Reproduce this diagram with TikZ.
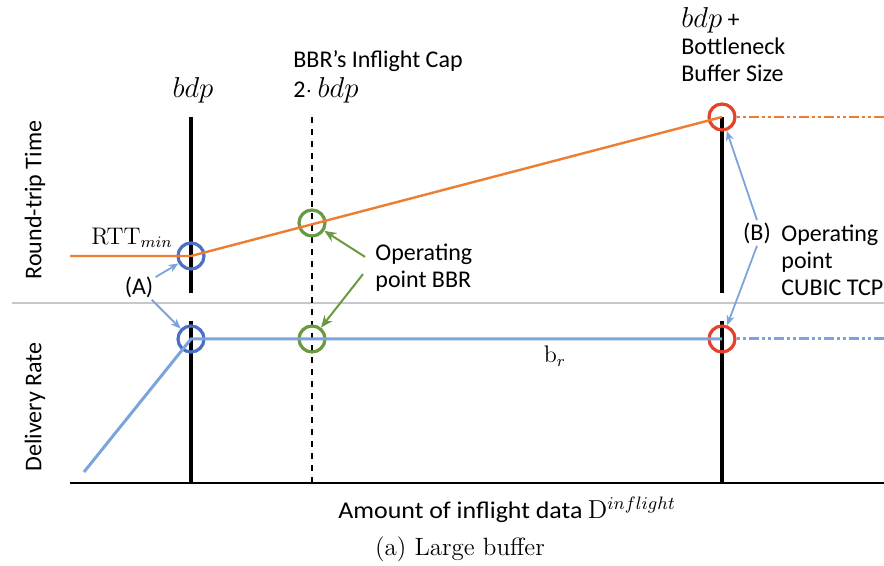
\documentclass[tikz,border=0pt]{standalone}
\usepackage{fontspec}
\newfontfamily\labelfont{Carlito}
\usetikzlibrary{positioning, arrows.meta, calc}
\definecolor{rttorange}{HTML}{ED7D31}
\definecolor{rateblue}{HTML}{7BA4DD}
\definecolor{ptblue}{HTML}{4A6FC6}
\definecolor{ptgreen}{HTML}{6A9A40}
\definecolor{ptred}{HTML}{E2432A}
\definecolor{sepgray}{HTML}{C8C8C8}
\newcommand{\bdpsym}{{\fontsize{14}{14}\selectfont$bdp$}}
\tikzset{
  lbl/.style={
    font=\labelfont\fontsize{12}{13.5}\selectfont,
    align=left,
    inner sep=1pt
  },
  serif/.style={
    font=\fontsize{12}{14}\selectfont,
    inner sep=1pt
  },
  oppoint/.style={
    circle,
    draw,
    line width=1.6pt,
    minimum size=13pt,
    inner sep=0pt
  },
  annot/.style={
    draw=rateblue,
    line width=0.9pt,
    -{Stealth[length=5pt,width=4pt]}
  },
  annotgreen/.style={
    draw=ptgreen,
    line width=1pt,
    -{Stealth[length=6pt,width=5pt]}
  },
  marker/.style={
    line width=2.3pt
  }
}

\begin{document}
\begin{tikzpicture}[x=0.5pt, y=-0.5pt]
    \useasboundingbox (0,0) rectangle (884,566);

    % panels and axis
    \draw[sepgray, line width=0.8pt] (12,303) -- (884,303);
    \draw[line width=1pt] (70,483) -- (884,483);

    % markers at bdp, 2 bdp and bdp + buffer
    \draw[marker] (191,117) -- (191,293);
    \draw[marker] (191,321) -- (191,483);
    \draw[dashed, line width=0.7pt] (312,117) -- (312,483);
    \draw[marker] (722,117) -- (722,293);
    \draw[marker] (722,321) -- (722,483);

    % operating points
    \node[oppoint, draw=ptblue] (rttA) at (191,256) {};
    \node[oppoint, draw=ptgreen] (rttBBR) at (312,223) {};
    \node[oppoint, draw=ptred] (rttCubic) at (722,117) {};
    \node[oppoint, draw=ptblue] (drA) at (191,339) {};
    \node[oppoint, draw=ptgreen] (drBBR) at (312,339) {};
    \node[oppoint, draw=ptred] (drCubic) at (722,339) {};

    \coordinate (rttStart) at (70,256);
    \coordinate (rttEnd) at (884,117);
    \coordinate (drStart) at (84,472);
    \coordinate (drEnd) at (884,339);

    % RTT curve
    \draw[rttorange, line width=1.2pt] (rttStart) -- (rttA.center) -- (rttCubic.center);
    \draw[rttorange, line width=1.2pt, dash pattern={on 1.5pt off 1.5pt on 1.5pt off 1.5pt on 5pt off 1.5pt}]
        (rttCubic.east) -- (rttEnd);

    % delivery rate curve
    \draw[rateblue, line width=1.5pt] (drStart) -- (drA.center) -- (drCubic.center);
    \draw[rateblue, line width=1.5pt, dash pattern={on 1.5pt off 1.5pt on 1.5pt off 1.5pt on 5pt off 1.5pt}]
        (drCubic.east) -- (drEnd);

    % labels
    \node[serif] (bdpLbl) at (193,90) {\bdpsym};
    \node[lbl, anchor=west] (capLbl) at (291,61) {BBR’s Inflight Cap};
    \node[lbl, anchor=west] (capVal) at (291,90) {2$\cdot$ \bdpsym};
    \node[lbl, anchor=west] (bufLbl) at (679,45) {\bdpsym{} +\\Bottleneck\\Buffer Size};
    \node[lbl, rotate=90] (rttAxis) at (35,200) {Round-trip Time};
    \node[lbl, rotate=90] (drAxis) at (35,407) {Delivery Rate};
    \node[serif] (rttMin) at (132,238) {RTT$_{min}$};
    \node[lbl] (labA) at (139,287) {(A)};
    \node[lbl, anchor=west] (opBBR) at (373,268) {Operating\\point BBR};
    \node[lbl] (labB) at (757,233) {(B)};
    \node[lbl, anchor=west] (opCubic) at (779,260) {Operating\\point\\CUBIC TCP};
    \node[serif] (brLbl) at (555,356) {b$_r$};
    \node[lbl, anchor=west] (xAxis) at (336,510)
        {\scalebox{1.08}[1]{Amount of inflight data}\ {\rmfamily\fontsize{13}{14}\selectfont D$^{inflight}$}};
    \node[font=\fontsize{12.5}{14}\selectfont] (caption) at (460,549) {(a) Large buffer};

    % annotations
    \draw[annot] (labA) -- (rttA);
    \draw[annot] (labA) -- (drA);
    \draw[annotgreen] ([shift={(-8,15)}]opBBR.north west) -- (rttBBR);
    \draw[annotgreen] ([shift={(-10,-20)}]opBBR.south west) -- (drBBR);
    \draw[annot] (labB.north) -- (rttCubic);
    \draw[annot] (labB.south) -- (drCubic);
\end{tikzpicture}
\end{document}
